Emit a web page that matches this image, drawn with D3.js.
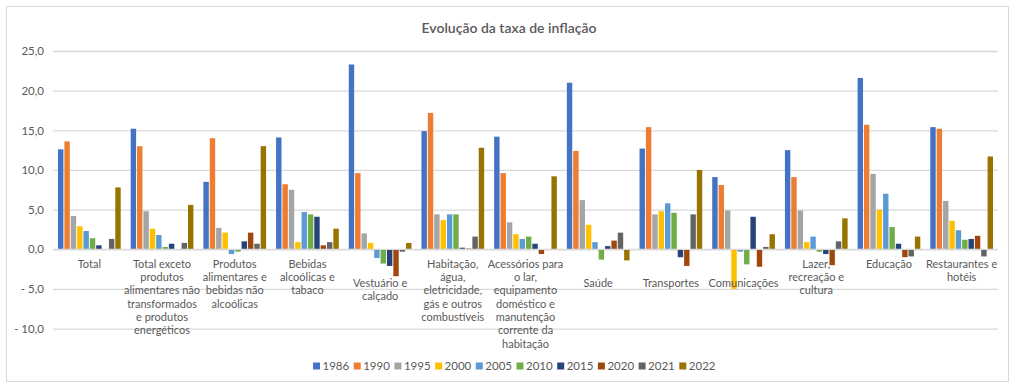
<!DOCTYPE html>
<html>
<head>
<meta charset="utf-8">
<script src="https://cdn.jsdelivr.net/npm/d3@7"></script>
<style>
  html, body { margin: 0; padding: 0; background: #fff; }
  svg text { font-family: Lato, "Open Sans", sans-serif; fill: #595959; }
</style>
</head>
<body>
<svg id="chart" width="1016" height="390"></svg>
<script>
// ---- data ----
const categories = [
  "Total",
  "Total exceto produtos alimentares não transformados e produtos energéticos",
  "Produtos alimentares e bebidas não alcoólicas",
  "Bebidas alcoólicas e tabaco",
  "Vestuário e calçado",
  "Habitação, água, eletricidade, gás e outros combustíveis",
  "Acessórios para o lar, equipamento doméstico e manutenção corrente da habitação",
  "Saúde",
  "Transportes",
  "Comunicações",
  "Lazer, recreação e cultura",
  "Educação",
  "Restaurantes e hotéis"
];
const categoryLines = [
  ["Total"],
  ["Total exceto", "produtos", "alimentares não", "transformados", "e produtos", "energéticos"],
  ["Produtos", "alimentares e", "bebidas não", "alcoólicas"],
  ["Bebidas", "alcoólicas e", "tabaco"],
  ["Vestuário e", "calçado"],
  ["Habitação,", "água,", "eletricidade,", "gás e outros", "combustíveis"],
  ["Acessórios para", "o lar,", "equipamento", "doméstico e", "manutenção", "corrente da", "habitação"],
  ["Saúde"],
  ["Transportes"],
  ["Comunicações"],
  ["Lazer,", "recreação e", "cultura"],
  ["Educação"],
  ["Restaurantes e", "hotéis"]
];
const years = ["1986","1990","1995","2000","2005","2010","2015","2020","2021","2022"];

const s1986 = [12.6, 15.2, 8.5, 14.1, 23.3, 14.9, 14.2, 21.0, 12.7, 9.1, 12.5, 21.6, 15.4];
const s1990 = [13.6, 13.0, 14.0, 8.2, 9.6, 17.2, 9.6, 12.4, 15.4, 8.1, 9.1, 15.7, 15.2];
const s1995 = [4.2, 4.8, 2.7, 7.5, 2.0, 4.4, 3.4, 6.2, 4.4, 4.9, 4.9, 9.5, 6.1];
const s2000 = [2.9, 2.6, 2.1, 0.9, 0.8, 3.7, 1.9, 3.1, 4.8, -5.0, 0.9, 5.0, 3.6];
const s2005 = [2.3, 1.8, -0.6, 4.7, -1.1, 4.4, 1.3, 0.9, 5.8, -0.3, 1.6, 7.0, 2.4];
const s2010 = [1.4, 0.3, -0.3, 4.4, -1.8, 4.4, 1.6, -1.3, 4.6, -1.9, -0.3, 2.8, 1.2];
const s2015 = [0.5, 0.7, 1.0, 4.1, -2.1, 0.2, 0.7, 0.4, -1.0, 4.1, -0.6, 0.7, 1.3];
const s2020 = [0.0, 0.0, 2.1, 0.5, -3.4, 0.1, -0.6, 1.1, -2.1, -2.2, -2.0, -1.0, 1.7];
const s2021 = [1.3, 0.8, 0.7, 0.9, -0.3, 1.6, 0.0, 2.1, 4.4, 0.3, 1.0, -0.9, -0.9];
const s2022 = [7.8, 5.6, 13.0, 2.6, 0.8, 12.8, 9.2, -1.4, 10.0, 1.9, 3.9, 1.6, 11.7];
const seriesValues = [s1986, s1990, s1995, s2000, s2005, s2010, s2015, s2020, s2021, s2022];

const yTicks = [-10, -5, 0, 5, 10, 15, 20, 25];
const title = "Evolução da taxa de inflação";

// ---- style / layout ----
const colors = ["#4472C4","#ED7D31","#A5A5A5","#FFC000","#5B9BD5","#70AD47","#264478","#9E480E","#636363","#997300"];
const loweredLabels = new Set([4, 7, 8, 9]); // labels drawn one step lower, as in the reference

const svg = d3.select("#chart");

// frame
svg.append("rect").attr("x", 6.5).attr("y", 6.5).attr("width", 1002).attr("height", 375)
  .attr("fill", "#fff").attr("stroke", "#d9d9d9").attr("stroke-width", 1);

const plot = { left: 53, right: 998, top: 51, bottom: 328.6 };

const x0 = d3.scaleBand().domain(d3.range(categories.length))
  .range([plot.left, plot.right]).paddingInner(0.1375).paddingOuter(0.0688);
const x1 = d3.scaleBand().domain(years).range([0, x0.bandwidth()]).paddingInner(0.15);
const y = d3.scaleLinear().domain([-10, 25]).range([plot.bottom, plot.top]);

// gridlines
const fmt = v => {
  const s = Math.abs(v).toFixed(1).replace(".", ",");
  return v < 0 ? "- " + s : s;
};
const yAxis = d3.axisLeft(y).tickValues(yTicks).tickSize(-(plot.right - plot.left)).tickFormat(fmt).tickPadding(9);
const gy = svg.append("g").attr("transform", `translate(${plot.left},0)`).call(yAxis);
gy.select(".domain").remove();
gy.selectAll(".tick line").attr("stroke", "#d9d9d9").attr("stroke-width", 1.3);
gy.selectAll(".tick text").attr("font-size", "11.5px").style("fill", "#595959");

// bars
const groups = svg.append("g").selectAll("g").data(categories).join("g")
  .attr("transform", (d, i) => `translate(${x0(i)},0)`);
groups.selectAll("rect")
  .data((d, i) => years.map((yr, k) => ({ yr, k, v: seriesValues[k][i] })))
  .join("rect")
  .attr("x", d => x1(d.yr))
  .attr("width", x1.bandwidth())
  .attr("y", d => y(Math.max(0, d.v)))
  .attr("height", d => Math.abs(y(d.v) - y(0)))
  .attr("fill", d => colors[d.k]);

// zero axis line
svg.append("line").attr("x1", plot.left).attr("x2", plot.right)
  .attr("y1", y(0)).attr("y2", y(0)).attr("stroke", "#d9d9d9").attr("stroke-width", 1.3);

// category labels
const lineH = 13.33;
const labelG = svg.append("g");
categoryLines.forEach((lines, i) => {
  const cx = x0(i) + x0.bandwidth() / 2;
  const baseY = y(0) + 18.5 + (loweredLabels.has(i) ? 19.3 : 0);
  const t = labelG.append("text").attr("text-anchor", "middle").attr("font-size", "11px");
  lines.forEach((ln, j) => {
    t.append("tspan").attr("x", cx).attr("y", baseY + j * lineH).text(ln);
  });
});

// title
svg.append("text").attr("x", 509).attr("y", 33).attr("text-anchor", "middle")
  .attr("font-size", "14px").attr("font-weight", 600).text(title);

// legend
const legItem = 40.7;
const legStart = 313;
const legY = 366;
const leg = svg.append("g").selectAll("g").data(years).join("g")
  .attr("transform", (d, i) => `translate(${legStart + i * legItem},${legY})`);
leg.append("rect").attr("x", 0).attr("y", -3.5).attr("width", 7).attr("height", 7)
  .attr("fill", (d, i) => colors[i]);
leg.append("text").attr("x", 9.5).attr("y", 4).attr("font-size", "11.5px").text(d => d);
</script>
</body>
</html>
